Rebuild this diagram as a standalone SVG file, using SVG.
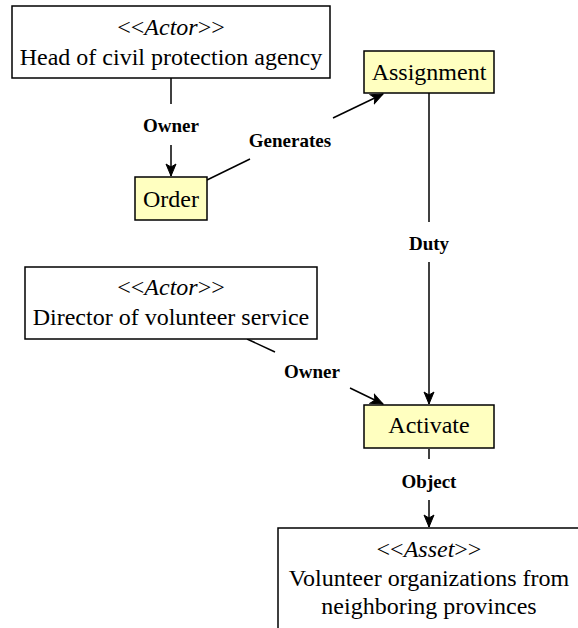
<svg xmlns="http://www.w3.org/2000/svg" width="578" height="628" viewBox="0 0 578 628">
<style>
.box{fill:#ffffff;stroke:#000;stroke-width:1.5}
.act{fill:#ffffc0;stroke:#000;stroke-width:1.5}
.elabel{font-family:'Liberation Serif',serif;font-size:19px;font-weight:bold;fill:#000;text-anchor:middle}
.conn{stroke:#000;stroke-width:1.5;fill:none}
</style>
<defs>
<marker id="arr" markerWidth="14" markerHeight="12" refX="13" refY="6" orient="auto" markerUnits="userSpaceOnUse">
<path d="M1,1 L13,6 L1,11 L4,6 Z" fill="#000" stroke="#000" stroke-width="1"/>
</marker>
</defs>
<rect width="578" height="628" fill="#fff"/>
<g id="connectors">
<line class="conn" x1="171" y1="78" x2="171" y2="104"/>
<line class="conn" x1="171" y1="145" x2="171" y2="176" marker-end="url(#arr)"/>
<line class="conn" x1="207" y1="180" x2="250" y2="159"/>
<line class="conn" x1="333" y1="118" x2="383" y2="94" marker-end="url(#arr)"/>
<line class="conn" x1="429" y1="93" x2="429" y2="222"/>
<line class="conn" x1="429" y1="262" x2="429" y2="404" marker-end="url(#arr)"/>
<line class="conn" x1="247" y1="339" x2="275" y2="352"/>
<line class="conn" x1="350" y1="388" x2="383" y2="404" marker-end="url(#arr)"/>
<line class="conn" x1="429" y1="449" x2="429" y2="459"/>
<line class="conn" x1="429" y1="500" x2="429" y2="527" marker-end="url(#arr)"/>
<text class="elabel" x="171" y="132">Owner</text>
<text class="elabel" x="290" y="147">Generates</text>
<text class="elabel" x="429" y="250">Duty</text>
<text class="elabel" x="312" y="378">Owner</text>
<text class="elabel" x="429" y="488">Object</text>
</g>
<g font-family="Liberation Serif" font-size="24" text-anchor="middle" fill="#000">
<g id="head">
<rect class="box" x="12" y="6" width="318" height="72"/>
<text x="171" y="35">&lt;&lt;<tspan font-style="italic">Actor</tspan>&gt;&gt;</text>
<text x="171" y="65">Head of civil protection agency</text>
</g>
<g id="order">
<rect class="act" x="135" y="177" width="72" height="43"/>
<text x="171" y="207">Order</text>
</g>
<g id="assignment">
<rect class="act" x="364" y="51" width="130" height="42"/>
<text x="429" y="80">Assignment</text>
</g>
<g id="director">
<rect class="box" x="25" y="267" width="292" height="72"/>
<text x="171" y="295">&lt;&lt;<tspan font-style="italic">Actor</tspan>&gt;&gt;</text>
<text x="171" y="325">Director of volunteer service</text>
</g>
<g id="activate">
<rect class="act" x="364" y="405" width="130" height="43"/>
<text x="429" y="433">Activate</text>
</g>
<g id="asset">
<rect class="box" x="278" y="528" width="302" height="110"/>
<text x="429" y="557">&lt;&lt;<tspan font-style="italic">Asset</tspan>&gt;&gt;</text>
<text x="429" y="586">Volunteer organizations from</text>
<text x="429" y="614">neighboring provinces</text>
</g>
</g>
</svg>
